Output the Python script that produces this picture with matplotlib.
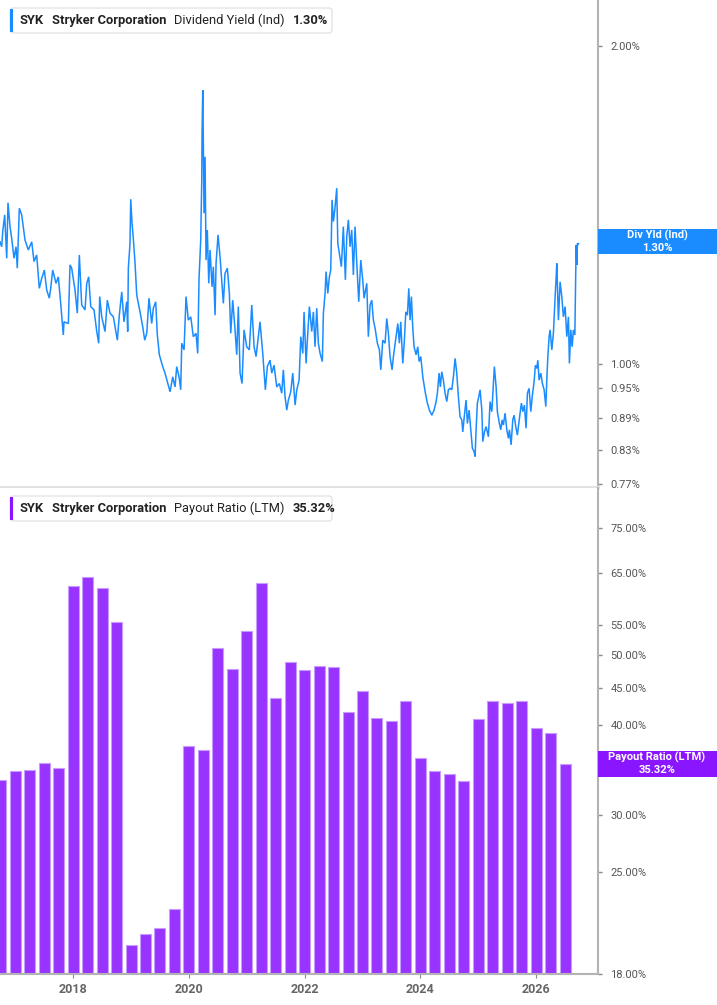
import matplotlib
matplotlib.use("Agg")
import matplotlib.pyplot as plt
from matplotlib.patches import FancyBboxPatch, Rectangle
from matplotlib.ticker import FixedLocator, NullLocator, FixedFormatter

plt.rcParams['font.family'] = ['Roboto', 'DejaVu Sans']

# ---------------- data ----------------
ticker = "SYK"
company = "Stryker Corporation"
yield_label = "Dividend Yield (Ind)"
yield_last = "1.30%"
payout_label = "Payout Ratio (LTM)"
payout_last = "35.32%"

yield_dates = [
    2016.735, 2016.764, 2016.782, 2016.816, 2016.851, 2016.873, 2016.908, 2016.937, 2016.977, 2017.012,
    2017.034, 2017.069, 2017.110, 2017.167, 2017.224, 2017.283, 2017.323, 2017.369, 2017.414, 2017.456,
    2017.501, 2017.542, 2017.587, 2017.611, 2017.646, 2017.703, 2017.743, 2017.784, 2017.829, 2017.841,
    2017.916, 2017.945, 2017.974, 2018.031, 2018.071, 2018.106, 2018.147, 2018.204, 2018.234, 2018.268,
    2018.303, 2018.360, 2018.407, 2018.441, 2018.458, 2018.493, 2018.550, 2018.590, 2018.636, 2018.694,
    2018.763, 2018.797, 2018.839, 2018.878, 2018.925, 2018.942, 2018.953, 2018.982, 2018.994, 2019.017,
    2019.039, 2019.069, 2019.098, 2019.155, 2019.202, 2019.236, 2019.271, 2019.310, 2019.357, 2019.385,
    2019.426, 2019.454, 2019.489, 2019.547, 2019.587, 2019.627, 2019.674, 2019.720, 2019.760, 2019.789,
    2019.834, 2019.858, 2019.876, 2019.916, 2019.950, 2019.990, 2020.032, 2020.076, 2020.123, 2020.152,
    2020.175, 2020.204, 2020.222, 2020.227, 2020.239, 2020.249, 2020.261, 2020.279, 2020.296, 2020.318,
    2020.343, 2020.365, 2020.400, 2020.422, 2020.452, 2020.469, 2020.503, 2020.538, 2020.567, 2020.595,
    2020.624, 2020.664, 2020.699, 2020.723, 2020.757, 2020.797, 2020.826, 2020.854, 2020.884, 2020.918,
    2020.953, 2020.999, 2021.044, 2021.086, 2021.126, 2021.160, 2021.200, 2021.229, 2021.276, 2021.321,
    2021.355, 2021.402, 2021.432, 2021.471, 2021.518, 2021.563, 2021.604, 2021.632, 2021.661, 2021.691,
    2021.719, 2021.760, 2021.795, 2021.835, 2021.864, 2021.904, 2021.933, 2021.968, 2021.990, 2022.025,
    2022.047, 2022.082, 2022.123, 2022.151, 2022.180, 2022.209, 2022.237, 2022.267, 2022.306, 2022.324,
    2022.353, 2022.370, 2022.400, 2022.427, 2022.451, 2022.474, 2022.497, 2022.521, 2022.555, 2022.573,
    2022.600, 2022.635, 2022.669, 2022.704, 2022.728, 2022.756, 2022.785, 2022.814, 2022.842, 2022.871,
    2022.901, 2022.935, 2022.970, 2023.004, 2023.027, 2023.074, 2023.101, 2023.131, 2023.160, 2023.188,
    2023.217, 2023.257, 2023.292, 2023.316, 2023.350, 2023.390, 2023.419, 2023.447, 2023.476, 2023.511,
    2023.534, 2023.580, 2023.610, 2023.637, 2023.661, 2023.696, 2023.724, 2023.748, 2023.776, 2023.800,
    2023.822, 2023.845, 2023.869, 2023.891, 2023.926, 2023.955, 2023.978, 2024.007, 2024.042, 2024.064,
    2024.087, 2024.121, 2024.156, 2024.197, 2024.237, 2024.272, 2024.294, 2024.324, 2024.346, 2024.370,
    2024.398, 2024.427, 2024.457, 2024.484, 2024.514, 2024.543, 2024.571, 2024.600, 2024.629, 2024.657,
    2024.686, 2024.716, 2024.733, 2024.756, 2024.790, 2024.813, 2024.842, 2024.871, 2024.899, 2024.928,
    2024.946, 2024.963, 2024.985, 2025.010, 2025.032, 2025.062, 2025.079, 2025.107, 2025.136, 2025.176,
    2025.205, 2025.235, 2025.262, 2025.279, 2025.309, 2025.331, 2025.366, 2025.390, 2025.413, 2025.435,
    2025.464, 2025.494, 2025.522, 2025.539, 2025.568, 2025.597, 2025.620, 2025.649, 2025.677, 2025.712,
    2025.746, 2025.771, 2025.798, 2025.827, 2025.850, 2025.879, 2025.909, 2025.936, 2025.966, 2025.988,
    2026.012, 2026.030, 2026.052, 2026.082, 2026.109, 2026.139, 2026.168, 2026.185, 2026.203, 2026.225,
    2026.242, 2026.272, 2026.299, 2026.329, 2026.346, 2026.358, 2026.386, 2026.415, 2026.444, 2026.472,
    2026.502, 2026.531, 2026.559, 2026.576, 2026.600, 2026.623, 2026.645, 2026.670, 2026.680, 2026.692,
    2026.704, 2026.715, 2026.732,
]
yield_values = [
    1.306, 1.292, 1.335, 1.385, 1.260, 1.422, 1.350, 1.316, 1.260, 1.292,
    1.233, 1.405, 1.385, 1.311, 1.283, 1.306, 1.251, 1.269, 1.180, 1.206,
    1.228, 1.176, 1.155, 1.180, 1.228, 1.193, 1.210, 1.142, 1.066, 1.097,
    1.093, 1.242, 1.233, 1.176, 1.118, 1.269, 1.138, 1.126, 1.193, 1.210,
    1.134, 1.126, 1.074, 1.047, 1.159, 1.109, 1.074, 1.150, 1.118, 1.109,
    1.054, 1.113, 1.171, 1.097, 1.146, 1.074, 1.233, 1.302, 1.433, 1.360,
    1.316, 1.246, 1.163, 1.121, 1.085, 1.054, 1.070, 1.155, 1.093, 1.130,
    1.146, 1.066, 1.021, 0.995, 0.981, 0.963, 0.942, 0.973, 0.952, 0.995,
    0.970, 0.946, 1.047, 1.032, 1.159, 1.101, 1.109, 1.062, 1.070, 1.024,
    1.206, 1.311, 1.494, 1.655, 1.818, 1.631, 1.390, 1.572, 1.255, 1.340,
    1.193, 1.283, 1.184, 1.237, 1.113, 1.246, 1.326, 1.264, 1.202, 1.142,
    1.219, 1.233, 1.167, 1.070, 1.150, 1.078, 1.021, 1.134, 0.981, 0.959,
    1.078, 1.039, 1.032, 1.138, 1.039, 1.017, 1.062, 1.097, 1.024, 0.946,
    0.995, 1.009, 0.981, 0.998, 0.952, 0.959, 0.939, 0.988, 0.932, 0.905,
    0.925, 0.942, 0.981, 0.915, 0.946, 0.966, 1.062, 1.024, 1.121, 1.002,
    1.054, 1.134, 1.074, 1.121, 1.039, 1.130, 1.047, 1.024, 1.006, 1.118,
    1.167, 1.224, 1.167, 1.210, 1.228, 1.431, 1.365, 1.400, 1.468, 1.302,
    1.274, 1.237, 1.350, 1.202, 1.321, 1.370, 1.292, 1.340, 1.215, 1.350,
    1.246, 1.146, 1.255, 1.202, 1.155, 1.193, 1.062, 1.138, 1.150, 1.101,
    1.082, 1.047, 1.032, 0.988, 1.054, 1.047, 1.105, 1.070, 1.017, 0.988,
    1.017, 1.062, 1.093, 1.047, 1.097, 1.002, 1.054, 1.121, 1.113, 1.180,
    1.101, 1.159, 1.082, 1.039, 1.021, 1.039, 1.006, 1.017, 0.973, 0.956,
    0.939, 0.919, 0.905, 0.895, 0.905, 0.922, 0.939, 0.981, 0.952, 0.984,
    0.966, 0.939, 0.922, 0.946, 0.949, 0.946, 0.973, 1.013, 0.981, 0.932,
    0.892, 0.886, 0.863, 0.889, 0.925, 0.879, 0.905, 0.867, 0.833, 0.827,
    0.818, 0.867, 0.919, 0.932, 0.946, 0.905, 0.845, 0.863, 0.873, 0.854,
    0.922, 0.902, 0.959, 0.995, 0.952, 0.902, 0.879, 0.867, 0.886, 0.876,
    0.899, 0.867, 0.851, 0.867, 0.839, 0.886, 0.895, 0.873, 0.857, 0.889,
    0.919, 0.902, 0.915, 0.870, 0.939, 0.949, 0.902, 0.935, 0.963, 0.998,
    0.991, 1.009, 0.966, 0.981, 0.959, 0.946, 0.912, 0.966, 1.017, 1.062,
    1.078, 1.032, 1.070, 1.159, 1.206, 1.246, 1.101, 1.197, 1.159, 1.109,
    1.134, 1.062, 1.109, 1.002, 1.078, 1.039, 1.078, 1.066, 1.159, 1.297,
    1.242, 1.302, 1.300,
]

payout_dates = [2016.75 + 0.25 * i for i in range(40)]
payout_values = [
    33.5, 34.5, 34.6, 35.4, 34.8, 62.4, 64.2, 62.0, 55.6, 19.8,
    20.5, 20.9, 22.2, 37.4, 36.9, 51.1, 47.8, 54.0, 62.9, 43.6,
    48.9, 47.7, 48.3, 48.1, 41.7, 44.6, 40.9, 40.5, 43.2, 36.0,
    34.5, 34.2, 33.4, 40.7, 43.2, 42.9, 43.1, 39.6, 39.0, 35.32,
]

yield_ticks = [0.77, 0.83, 0.89, 0.95, 1.00, 2.00]
payout_ticks = [18, 25, 30, 35, 40, 45, 50, 55, 65, 75]
payout_hidden_tick = 35   # its label sits under the value tag
year_ticks = [2018, 2020, 2022, 2024, 2026]

# ---------------- layout ----------------
W, H = 717, 1005
fig = plt.figure(figsize=(W / 100, H / 100), dpi=100)
fig.patch.set_facecolor("white")

def fx(px):
    return px / W

def fy(py):
    return 1 - py / H

AX_R = 598
XLIM = (2016.735, 2027.07)
BLUE = "#1a8cff"
PURPLE = "#9933ff"
TAG_PURPLE = "#8a16ff"
AXIS_GRAY = "#b3b3b3"
TICK_TXT = "#555555"

ax1 = fig.add_axes([0, fy(487), fx(AX_R), 487 / H])
ax2 = fig.add_axes([0, fy(974.3), fx(AX_R), (974.3 - 488) / H])

for ax in (ax1, ax2):
    ax.set_facecolor("white")
    ax.set_xlim(*XLIM)
    ax.set_yscale("log")
    ax.yaxis.tick_right()
    ax.spines["left"].set_visible(False)
    ax.spines["top"].set_visible(False)
    ax.spines["right"].set_color(AXIS_GRAY)
    ax.spines["right"].set_linewidth(1.5)
    ax.yaxis.set_minor_locator(NullLocator())
    ax.tick_params(axis="y", which="major", length=3, width=1, color="#888888",
                   labelcolor=TICK_TXT, labelsize=8, pad=6)

# top panel: dividend yield line
ax1.plot(yield_dates, yield_values, color=BLUE, lw=1.1, solid_joinstyle="miter")
ax1.set_ylim(0.7654, 2.212)
ax1.yaxis.set_major_locator(FixedLocator(yield_ticks))
ax1.yaxis.set_major_formatter(FixedFormatter([f"{t:.2f}%" for t in yield_ticks]))
ax1.spines["bottom"].set_color("#e2e2e2")
ax1.spines["bottom"].set_linewidth(2.2)
ax1.set_xticks([])

# bottom panel: payout ratio bars
Y0 = 18
ax2.set_ylim(Y0, 85.3)
ax2.bar(payout_dates, [v - Y0 for v in payout_values], bottom=Y0, width=0.19,
        color=PURPLE, edgecolor="#c79cff", linewidth=0.8, zorder=2)
ax2.yaxis.set_major_locator(FixedLocator(payout_ticks))
ax2.yaxis.set_major_formatter(FixedFormatter(
    ["" if t == payout_hidden_tick else f"{t:.2f}%" for t in payout_ticks]))
ax2.spines["bottom"].set_color(AXIS_GRAY)
ax2.spines["bottom"].set_linewidth(1.5)
ax2.set_xticks(year_ticks)
ax2.set_xticklabels([str(y) for y in year_ticks])
ax2.tick_params(axis="x", length=3, color="#888888", labelcolor="#666666",
                labelsize=9, pad=3)
for lbl in ax2.get_xticklabels():
    lbl.set_fontweight("bold")

# ---------------- legend boxes ----------------
def header(y_top, bar_color, metric, last):
    box = FancyBboxPatch((fx(10), fy(y_top + 25)), fx(322), 25 / H,
                         boxstyle="round,pad=0,rounding_size=0.004",
                         transform=fig.transFigure, facecolor="white",
                         edgecolor="#e4e4e4", linewidth=1.0, zorder=5)
    fig.add_artist(box)
    fig.add_artist(Rectangle((fx(10), fy(y_top + 24)), fx(3), 23 / H,
                             transform=fig.transFigure, facecolor=bar_color,
                             edgecolor="none", zorder=6))
    yc = fy(y_top + 12.5)
    parts = [(ticker, "bold"), (company, "bold"), (metric, "normal"), (last, "bold")]
    x = fx(20)
    renderer = fig.canvas.get_renderer()
    for txt, wt in parts:
        t = fig.text(x, yc, txt, fontsize=9.3, fontweight=wt, color="#222222",
                     va="center", ha="left", zorder=7)
        bb = t.get_window_extent(renderer=renderer)
        x = (bb.x1 + 8) / W

header(8, BLUE, yield_label, yield_last)
header(496, TAG_PURPLE, payout_label, payout_last)

# ---------------- right value labels ----------------
def value_tag(y0, y1, color, line1, line2):
    fig.add_artist(Rectangle((fx(AX_R), fy(y1)), fx(W - AX_R), (y1 - y0) / H,
                             transform=fig.transFigure, facecolor=color,
                             edgecolor="none", zorder=8))
    ym = (y0 + y1) / 2
    fig.text(fx(657), fy(ym - 6), line1, fontsize=8, fontweight="bold", color="white",
             ha="center", va="center", zorder=9)
    fig.text(fx(657), fy(ym + 6), line2, fontsize=8, fontweight="bold", color="white",
             ha="center", va="center", zorder=9)

value_tag(229.3, 254.3, BLUE, "Div Yld (Ind)", yield_last)
value_tag(751, 776.7, TAG_PURPLE, payout_label, payout_last)

fig.savefig("out.png", dpi=100, facecolor="white")
